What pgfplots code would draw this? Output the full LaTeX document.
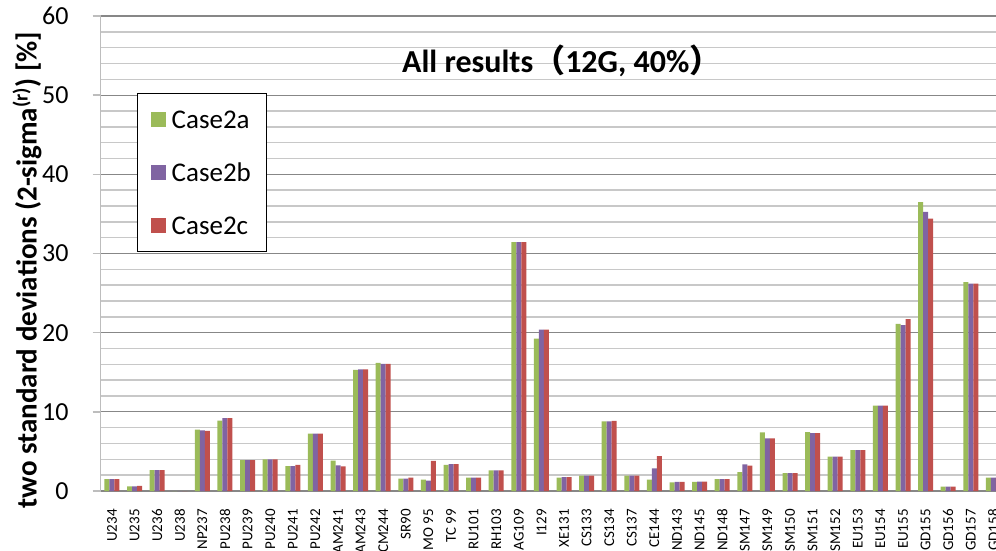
\documentclass[border=0pt]{standalone}
\usepackage{pgfplots}
\pgfplotsset{compat=1.18}
\usepackage{pgfplotstable}
\usepackage{fontspec}
\setmainfont{Carlito}
\newfontfamily\cjk{Noto Sans CJK JP}

\definecolor{caseA}{HTML}{9BBB59}
\definecolor{caseB}{HTML}{8064A2}
\definecolor{caseC}{HTML}{C0504D}
\definecolor{majgrid}{HTML}{878787}
\definecolor{mingrid}{HTML}{C8C8C8}
\definecolor{yaxis}{HTML}{BDBDBD}

% index, Case2a, Case2b, Case2c
\pgfplotstableread{
x  a     b     c
0  1.5   1.5   1.5
1  0.6   0.6   0.65
2  2.65  2.65  2.65
3  0     0     0
4  7.75  7.65  7.6
5  8.9   9.2   9.2
6  3.9   3.9   3.9
7  4.0   4.0   4.0
8  3.15  3.15  3.3
9  7.25  7.25  7.25
10 3.85  3.25  3.1
11 15.3  15.35 15.35
12 16.2  16.05 16.05
13 1.55  1.55  1.7
14 1.45  1.3   3.8
15 3.3   3.4   3.4
16 1.7   1.7   1.7
17 2.6   2.6   2.6
18 31.45 31.45 31.45
19 19.25 20.4  20.4
20 1.7   1.75  1.75
21 1.95  1.95  1.95
22 8.8   8.8   8.85
23 1.95  1.95  1.95
24 1.45  2.85  4.4
25 1.1   1.15  1.15
26 1.15  1.2   1.2
27 1.5   1.5   1.5
28 2.4   3.35  3.2
29 7.4   6.65  6.65
30 2.25  2.25  2.25
31 7.45  7.3   7.3
32 4.35  4.35  4.35
33 5.15  5.15  5.15
34 10.8  10.8  10.8
35 21.1  20.95 21.7
36 36.5  35.25 34.4
37 0.55  0.55  0.55
38 26.4  26.2  26.2
39 1.7   1.7   1.7
}\results

\begin{document}
\begin{tikzpicture}
\begin{axis}[
    scale only axis,
    width=904pt, height=475pt,
    xmin=-0.5, xmax=39.5,
    ymin=0, ymax=60,
    ybar=0pt, bar width=5pt,
    axis x line*=bottom, axis y line*=left,
    x axis line style={draw=majgrid, line width=1.2pt},
    y axis line style={draw=yaxis, line width=1.5pt},
    xtick=data,
    xticklabels={U234,U235,U236,U238,NP237,PU238,PU239,PU240,PU241,PU242,AM241,AM243,CM244,SR90,MO 95,TC 99,RU101,RH103,AG109,I129,XE131,CS133,CS134,CS137,CE144,ND143,ND145,ND148,SM147,SM149,SM150,SM151,SM152,EU153,EU154,EU155,GD155,GD156,GD157,GD158},
    xtick style={draw=none},
    xticklabel style={yshift=-10pt, rotate=90, anchor=east, inner sep=0pt, font=\fontsize{15}{18}\selectfont},
    ytick={0,10,...,60},
    minor y tick num=4,
    tick align=outside,
    major tick length=8pt, minor tick length=0pt,
    ytick style={draw=yaxis, line width=1.5pt},
    yticklabel style={inner sep=0pt, xshift=-24pt, font=\fontsize{26}{30}\selectfont},
    /pgf/number format/assume math mode=true,
    ymajorgrids, yminorgrids,
    major grid style={draw=majgrid, line width=1.2pt},
    minor grid style={draw=mingrid, line width=1.5pt},
    ylabel={two standard deviations (2-sigma\textsuperscript{(r)}) [\%]},
    ylabel style={at={(rel axis cs:-0.0815,0.465)}, anchor=center, font=\fontsize{29}{34}\selectfont\bfseries},
    title={All results{\cjk （}12G, 40\%{\cjk ）}},
    title style={at={(rel axis cs:0.51,0.893)}, anchor=center, font=\fontsize{32}{38}\selectfont\bfseries},
    legend style={at={(rel axis cs:0.0405,0.837)}, anchor=north west,
        draw=black, fill=white, line width=0.8pt,
        inner xsep=13pt, inner ysep=15pt, row sep=31pt, column sep=4pt,
        font=\fontsize{27}{31}\selectfont,
        nodes={inner sep=2pt, text height=18pt, text depth=0pt}},
    legend cell align=left,
    legend image code/.code={\fill[#1] (0pt,-7.5pt) rectangle (15pt,7.5pt);},
]
\addplot[fill=caseA, draw=none] table[x=x, y=a] {\results};
\addlegendentry{Case2a}
\addplot[fill=caseB, draw=none] table[x=x, y=b] {\results};
\addlegendentry{Case2b}
\addplot[fill=caseC, draw=none] table[x=x, y=c] {\results};
\addlegendentry{Case2c}
\end{axis}
\pgfresetboundingbox
\path[use as bounding box] ([shift={(-100.7pt,-59pt)}]current axis.south west) rectangle ([shift={(895.3pt,491pt)}]current axis.south west);
\end{tikzpicture}
\end{document}
